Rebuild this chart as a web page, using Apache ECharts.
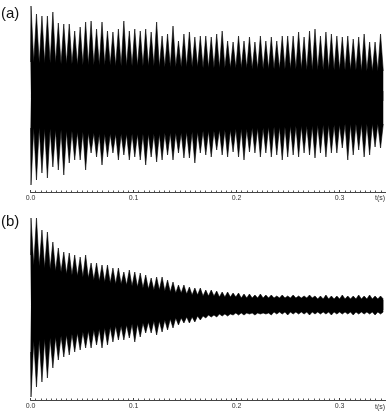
<!DOCTYPE html>
<html>
<head>
<meta charset="utf-8">
<script src="https://cdn.jsdelivr.net/npm/echarts@6/dist/echarts.min.js"></script>
<style>
html,body{margin:0;padding:0;background:#fff;}
#chart{width:386px;height:413px;}
</style>
</head>
<body>
<div id="chart"></div>
<script>
// Time axis ticks
const tickValues = [0.0, 0.1, 0.2, 0.3];
// Beat (spike) timing (s)
const beatStart = 0.0005;
const beatPeriod = 0.0053;

// Panel (a): spike peaks (upper / lower) and inter-spike body level
const aStart = [34, -32];
const aPeakUp = [90,82,80,80,84,73,72,72,65,69, 74,75,67,74,65,64,67,75,65,67,
  65,67,64,74,60,62,70,55,62,64, 59,60,60,59,62,65,55,54,60,55,
  59,54,60,55,59,55,60,60,60,64, 59,65,67,60,64,62,60,59,60,57,
  59,62,54,54,62];
const aPeakDown = [-89,-84,-77,-82,-71,-74,-79,-67,-64,-64, -74,-57,-61,-69,-61,-57,-64,-59,-64,-61,
  -64,-69,-61,-66,-64,-59,-64,-57,-62,-62, -67,-57,-59,-61,-54,-59,-61,-56,-61,-64,
  -56,-57,-61,-57,-61,-59,-64,-61,-59,-61, -57,-59,-62,-57,-61,-57,-57,-52,-64,-59,
  -54,-61,-59,-51,-52];
const aBodyUp = [34,33,33,33,33,32,32,32,31,31, 31,31,31,31,31,30,30,30,30,30,
  30,30,30,29,29,29,29,29,29,29, 29,28,28,28,28,28,28,28,28,28,
  27,27,27,27,27,27,27,27,27,27, 26,26,26,26,26,26,26,26,26,26,
  25,25,25,25,25];
const aBodyDown = [-32,-32,-33,-33,-34,-34,-35,-35,-36,-36, -37,-37,-38,-38,-38,-38,-38,-38,-38,-38,
  -38,-38,-38,-38,-37,-37,-37,-37,-36,-36, -36,-35,-35,-35,-34,-34,-34,-33,-33,-33,
  -32,-32,-32,-31,-31,-31,-31,-30,-30,-30, -30,-30,-29,-29,-29,-29,-29,-28,-28,-28,
  -28,-28,-28,-28,-28];

// Panel (b)
const bStart = [50, -47];
const bPeakUp = [87,87,75,73,63,57,53,52,50,48, 50,42,42,40,40,37,37,33,35,33,
  32,30,27,28,28,25,23,20,20,18, 17,17,15,15,14,13,13,12,12,11,
  11,10,11,10,10,9,10,9,10,9, 9,10,9,9,10,9,9,10,9,9,
  10,9,10,9,9];
const bPeakDown = [-92,-82,-77,-73,-63,-55,-52,-50,-47,-45, -43,-43,-40,-43,-40,-37,-35,-35,-33,-37,
  -32,-28,-28,-30,-27,-25,-23,-20,-18,-18, -17,-15,-13,-12,-12,-11,-11,-10,-10,-10,
  -9,-10,-9,-9,-10,-9,-9,-10,-9,-9, -9,-10,-9,-9,-9,-10,-9,-9,-9,-10,
  -9,-9,-9,-10,-9];
const bBodyUp = [40,39,37,36,34,33,31,30,29,28, 27,25,24,23,22,21,21,20,19,18,
  17,16,15,15,14,13,12,12,11,10, 10,9,9,9,8,8,8,8,7,7,
  7,7,7,7,7,7,7,7,7,7, 7,7,6,6,6,6,6,6,6,6,
  6,6,6,6,6];
const bBodyDown = [-36,-35,-34,-33,-32,-31,-30,-29,-28,-27, -26,-25,-24,-23,-22,-21,-21,-20,-19,-19,
  -18,-17,-16,-16,-15,-14,-13,-13,-12,-12, -11,-11,-10,-10,-9,-9,-9,-8,-8,-8,
  -8,-8,-8,-8,-7,-7,-7,-7,-7,-7, -7,-7,-7,-7,-7,-7,-7,-7,-7,-7,
  -7,-7,-7,-7,-7];

function envelope(start, peaks, body) {
  const pts = [[0, start]];
  peaks.forEach((p, k) => {
    const t = beatStart + k * beatPeriod;
    pts.push([t, p]);
    pts.push([t + beatPeriod / 2, body[k]]);
  });
  return pts;
}

function xAxisCfg(gridIndex) {
  return {
    type: 'value', gridIndex: gridIndex, min: 0, max: 0.345, interval: 0.1,
    splitLine: {show: false},
    axisLine: {show: true, onZero: false, lineStyle: {color: '#444', width: 1}},
    axisTick: {show: true, inside: true, length: 2, lineStyle: {color: '#444', width: 1}},
    minorTick: {show: true, splitNumber: 20, length: 1.5, lineStyle: {color: '#555', width: 1}},
    axisLabel: {
      show: true, margin: 3, fontSize: 7, color: '#333', fontFamily: 'Liberation Sans',
      showMaxLabel: false,
      formatter: v => (tickValues.some(tv => Math.abs(tv - v) < 1e-9) ? v.toFixed(1) : '')
    }
  };
}
function yAxisCfg(gridIndex, min, max) {
  return {type: 'value', gridIndex: gridIndex, min: min, max: max, show: false, splitLine: {show: false}};
}
function wave(xi, data, origin) {
  return {
    type: 'line', xAxisIndex: xi, yAxisIndex: xi, data: data,
    symbol: 'none', smooth: false, silent: true, animation: false,
    lineStyle: {color: '#000', width: 0.6},
    areaStyle: {color: '#000', opacity: 1, origin: origin}
  };
}

const chart = echarts.init(document.getElementById('chart'), null, {renderer: 'canvas'});
chart.setOption({
  animation: false,
  backgroundColor: '#fff',
  grid: [
    {left: 30.5, width: 355.5, top: 4, height: 188},
    {left: 30.5, width: 355.5, top: 212, height: 188}
  ],
  xAxis: [xAxisCfg(0), xAxisCfg(1)],
  yAxis: [yAxisCfg(0, -96, 92), yAxisCfg(1, -95, 93)],
  series: [
    wave(0, envelope(aStart[0], aPeakUp, aBodyUp), -5),
    wave(0, envelope(aStart[1], aPeakDown, aBodyDown), 5),
    wave(1, envelope(bStart[0], bPeakUp, bBodyUp), -5),
    wave(1, envelope(bStart[1], bPeakDown, bBodyDown), 5)
  ],
  graphic: [
    {type: 'text', left: 1, top: 6, style: {text: '(a)', font: '15px "Liberation Sans"', fill: '#111'}},
    {type: 'text', left: 1, top: 214, style: {text: '(b)', font: '15px "Liberation Sans"', fill: '#111'}},
    {type: 'text', left: 375, top: 195, style: {text: 't(s)', font: '7px "Liberation Sans"', fill: '#333'}},
    {type: 'text', left: 375, top: 404, style: {text: 't(s)', font: '7px "Liberation Sans"', fill: '#333'}}
  ]
});
</script>
</body>
</html>
